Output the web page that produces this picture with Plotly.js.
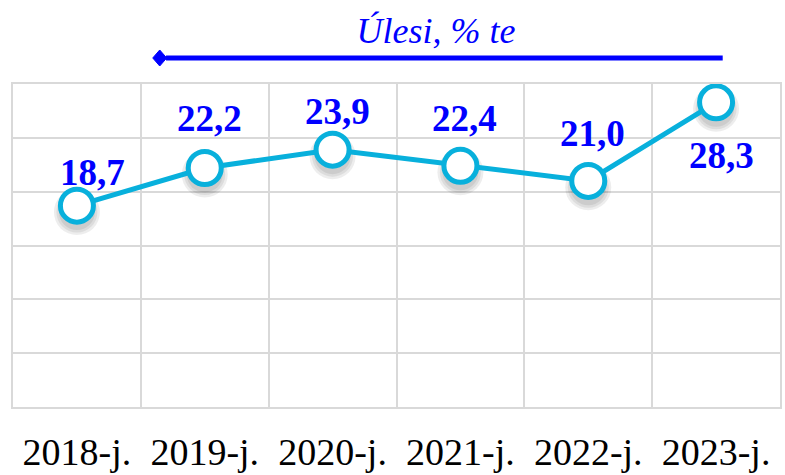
<!DOCTYPE html>
<html>
<head>
<meta charset="utf-8">
<script src="https://cdn.plot.ly/plotly-3.0.1.min.js"></script>
<style>html,body{margin:0;padding:0;background:#fff;}#chart{width:785px;height:475px;}</style>
</head>
<body>
<div id="chart"></div>
<script>
// ---- data ----
const categories = ["2018-j.", "2019-j.", "2020-j.", "2021-j.", "2022-j.", "2023-j."];
const values = [18.7, 22.2, 23.9, 22.4, 21.0, 28.3];
const titleText = "Úlesi, % te";

// ---- label placement (pixels, relative to each point) ----
const labelDx = [16, 5, 5, 4, 4, 5];
const labelDy = [33, 49, 38, 47, 47, -53];

const lineColor = "#08B0DC";
const blue = "#0000FF";
const grid = "#D9D9D9";
const serif = "Liberation Serif";

// soft shadow under markers (several faint circles)
const shadowTraces = [46, 41, 36].map(function (s) {
  return {
    x: categories,
    y: values.map(function (v) { return v - 0.6; }),
    type: "scatter",
    mode: "markers",
    marker: { size: s, color: "rgba(0,0,0,0.07)", line: { width: 0 } },
    hoverinfo: "skip",
    showlegend: false
  };
});

const mainTrace = {
  x: categories,
  y: values,
  type: "scatter",
  mode: "lines+markers",
  line: { color: lineColor, width: 5 },
  marker: { size: 33, color: "#FFFFFF", line: { color: lineColor, width: 5 } },
  showlegend: false,
  hoverinfo: "x+y"
};

const annotations = values.map(function (v, i) {
  return {
    x: categories[i],
    y: v,
    xref: "x",
    yref: "y",
    text: "<b>" + v.toFixed(1).replace(".", ",") + "</b>",
    showarrow: false,
    xshift: labelDx[i],
    yshift: labelDy[i],
    font: { family: serif, size: 37, color: blue }
  };
});

const layout = {
  width: 785,
  height: 475,
  margin: { l: 13, r: 5, t: 84, b: 68 },
  paper_bgcolor: "#FFFFFF",
  plot_bgcolor: "#FFFFFF",
  showlegend: false,
  title: {
    text: "<i>" + titleText + "</i>",
    font: { family: serif, size: 36, color: blue },
    xref: "paper",
    x: 0.5515,
    xanchor: "center",
    yref: "container",
    y: 0.935,
    yanchor: "middle"
  },
  xaxis: {
    type: "category",
    range: [-0.5, 5.5],
    tickson: "boundaries",
    showgrid: true,
    gridcolor: grid,
    gridwidth: 2,
    showline: true,
    mirror: true,
    linecolor: grid,
    linewidth: 2,
    ticks: "",
    zeroline: false,
    tickfont: { family: serif, size: 38, color: "#000000" },
    ticklabelstandoff: 10,
    fixedrange: true
  },
  yaxis: {
    range: [0, 30],
    dtick: 5,
    tick0: 0,
    showgrid: true,
    gridcolor: grid,
    gridwidth: 2,
    showline: true,
    mirror: true,
    linecolor: grid,
    linewidth: 2,
    zeroline: false,
    showticklabels: false,
    ticks: "",
    fixedrange: true
  },
  annotations: annotations,
  shapes: [
    {
      type: "line",
      xref: "paper", yref: "paper",
      x0: 0.1995, x1: 0.9253, y0: 1.0805, y1: 1.0805,
      line: { color: blue, width: 5 }
    },
    {
      type: "path",
      xref: "paper", yref: "paper",
      path: "M 0.1822 1.0805 L 0.1913 1.1053 L 0.2004 1.0805 L 0.1913 1.0557 Z",
      fillcolor: blue,
      line: { color: blue, width: 1 }
    }
  ]
};

Plotly.newPlot("chart", shadowTraces.concat([mainTrace]), layout, { displayModeBar: false, staticPlot: true });
</script>
</body>
</html>
